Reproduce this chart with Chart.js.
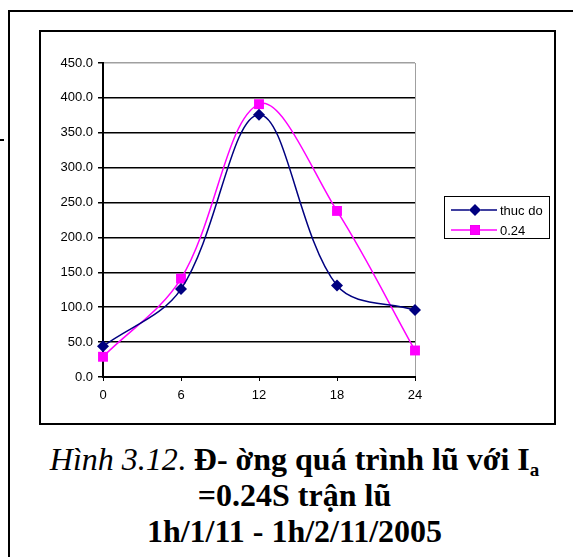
<!DOCTYPE html>
<html>
<head>
<meta charset="utf-8">
<script src="https://cdn.jsdelivr.net/npm/chart.js@4/dist/chart.umd.min.js"></script>
<style>
  body { margin: 0; background: #fff; width: 573px; height: 557px; overflow: hidden; position: relative; }
  #outer { position: absolute; left: 8px; top: 10px; width: 570px; height: 560px; border-left: 2px solid #000; border-top: 2px solid #000; }
  #dash { position: absolute; left: 0; top: 139px; width: 4px; height: 2px; background: #000; }
  #frame { position: absolute; left: 39px; top: 30px; width: 513px; height: 391px; border: 2px solid #000; }
  #wrap { position: absolute; left: 41px; top: 32px; width: 513px; height: 391px; }
  #caption { position: absolute; left: 12px; top: 441px; width: 565px; text-align: center;
             font-family: "Liberation Serif", serif; font-size: 32px; line-height: 36px; color: #000; }
  #caption b { font-weight: bold; }
  #caption sub { font-size: 19px; vertical-align: -6px; line-height: 0; }
</style>
</head>
<body>
<div id="outer"></div>
<div id="dash"></div>
<div id="frame"></div>
<div id="wrap"><canvas id="lineChart"></canvas></div>
<div id="caption"><i>Hình 3.12</i>. <b>Đ- ờng quá trình lũ với I<sub>a</sub><br>=0.24S trận lũ<br>1h/1/11 - 1h/2/11/2005</b></div>

<script>
// dati
var hours = [0, 6, 12, 18, 24];                 // asse x (ore)
var thucDo = [44, 126, 376, 131, 96];           // serie "thuc do"
var ia024 = [29, 141, 391, 238, 38];            // serie "0.24"
var seriesNames = ['thuc do', '0.24'];
var seriesColors = ['#000080', '#ff00ff'];
var yMin = 0, yMax = 450, yStep = 50;
var xMin = 0, xMax = 24, xStep = 6;

function toPoints(values) {
  var pts = [];
  for (var i = 0; i < hours.length; i++) {
    pts.push({ x: hours[i], y: values[i] });
  }
  return pts;
}

// legenda disegnata a mano (linea + marker)
var legendBox = {
  id: 'legendBox',
  afterDraw: function (chart) {
    var ctx = chart.ctx;
    var left = 403, top = 164, w = 105, h = 42;
    ctx.save();
    ctx.fillStyle = '#fff';
    ctx.fillRect(left, top, w, h);
    ctx.strokeStyle = '#000';
    ctx.lineWidth = 1;
    ctx.strokeRect(left + 0.5, top + 0.5, w, h);
    chart.data.datasets.forEach(function (ds, i) {
      var y = top + 14 + i * 20;
      ctx.strokeStyle = ds.borderColor;
      ctx.lineWidth = 1.5;
      ctx.beginPath();
      ctx.moveTo(left + 7, y);
      ctx.lineTo(left + 53, y);
      ctx.stroke();
      Chart.helpers.drawPoint(ctx, {
        pointStyle: ds.pointStyle,
        radius: ds.pointRadius,
        borderWidth: 0
      }, left + 31, y);
      ctx.fillStyle = ds.pointBackgroundColor;
      ctx.fill();
      ctx.fillStyle = '#000';
      ctx.font = '13px "Liberation Sans"';
      ctx.textBaseline = 'middle';
      ctx.fillText(ds.label, left + 56, y + 1);
    });
    ctx.restore();
  }
};

function createLineChart() {
  Chart.defaults.font.family = '"Liberation Sans", Arial, sans-serif';
  Chart.defaults.font.size = 13;
  Chart.defaults.color = '#000';

  var chart = new Chart(document.getElementById('lineChart'), {
    type: 'line',
    data: {
      datasets: [{
        label: seriesNames[0],
        data: toPoints(thucDo),
        borderColor: seriesColors[0],
        backgroundColor: seriesColors[0],
        pointBackgroundColor: seriesColors[0],
        pointBorderColor: seriesColors[0],
        pointStyle: 'rectRot',
        pointRadius: 6,
        pointBorderWidth: 0,
        borderWidth: 1.5,
        tension: 0.35,
        clip: false
      }, {
        label: seriesNames[1],
        data: toPoints(ia024),
        borderColor: seriesColors[1],
        backgroundColor: seriesColors[1],
        pointBackgroundColor: seriesColors[1],
        pointBorderColor: seriesColors[1],
        pointStyle: 'rect',
        pointRadius: 7,
        pointBorderWidth: 0,
        borderWidth: 1.5,
        tension: 0.35,
        clip: false
      }]
    },
    options: {
      responsive: true,
      maintainAspectRatio: false,
      animation: false,
      layout: { padding: { top: 31, right: 139, left: 0, bottom: 0 } },
      plugins: { legend: { display: false }, tooltip: { enabled: false } },
      scales: {
        x: {
          type: 'linear',
          min: xMin, max: xMax,
          ticks: { stepSize: xStep, padding: 7 },
          grid: {
            color: function (c) { return c.tick && c.tick.value === xMax ? '#a0a0a0' : 'rgba(0,0,0,0)'; },
            tickColor: '#000',
            tickLength: 4,
            lineWidth: 1
          },
          border: { color: '#000', width: 2 },
          afterFit: function (s) { s.height = 46; }
        },
        y: {
          min: yMin, max: yMax,
          ticks: {
            stepSize: yStep, padding: 5,
            callback: function (v) { return v.toFixed(1); }
          },
          grid: {
            color: function (c) { return c.tick && c.tick.value === yMax ? '#a0a0a0' : '#000'; },
            tickColor: '#000',
            tickLength: 5,
            lineWidth: 1.5
          },
          border: { color: '#000', width: 2 },
          afterFit: function (s) { s.width = 62; }
        }
      }
    },
    plugins: [legendBox]
  });
}

createLineChart();
</script>
</body>
</html>
